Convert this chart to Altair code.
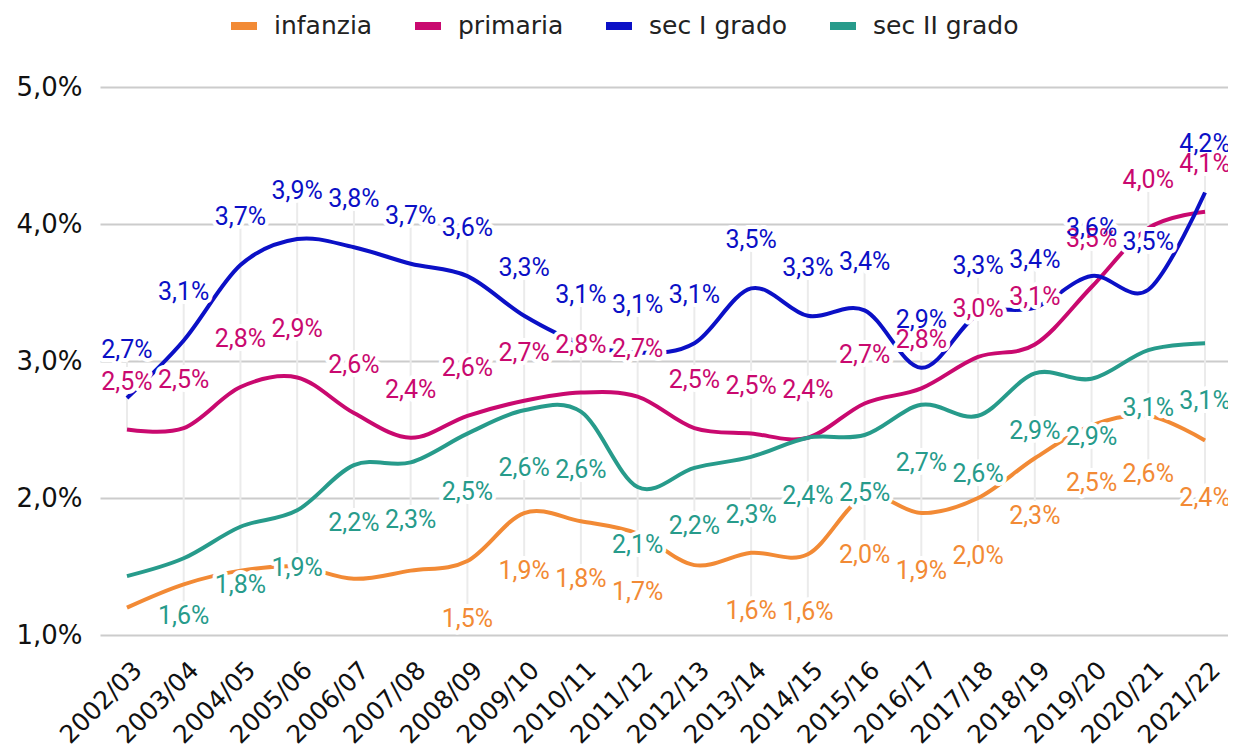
import altair as alt
import pandas as pd

years = ["2002/03", "2003/04", "2004/05", "2005/06", "2006/07", "2007/08", "2008/09",
         "2009/10", "2010/11", "2011/12", "2012/13", "2013/14", "2014/15", "2015/16",
         "2016/17", "2017/18", "2018/19", "2019/20", "2020/21", "2021/22"]

series = ["infanzia", "primaria", "sec I grado", "sec II grado"]
colors = ["#f28a35", "#c9096f", "#0b10c6", "#279b8b"]

infanzia = [1.20, 1.37, 1.47, 1.50, 1.41, 1.47, 1.54, 1.89, 1.83, 1.74,
            1.51, 1.60, 1.59, 2.01, 1.89, 2.00, 2.29, 2.53, 2.60, 2.42]
primaria = [2.50, 2.51, 2.81, 2.88, 2.62, 2.44, 2.60, 2.71, 2.77, 2.74,
            2.51, 2.47, 2.44, 2.69, 2.80, 3.03, 3.12, 3.54, 3.97, 4.09]
sec1 = [2.73, 3.15, 3.70, 3.89, 3.83, 3.71, 3.62, 3.33, 3.13, 3.06,
        3.13, 3.53, 3.33, 3.37, 2.95, 3.34, 3.39, 3.62, 3.52, 4.23]
sec2 = [1.43, 1.56, 1.79, 1.91, 2.24, 2.26, 2.47, 2.64, 2.63, 2.08,
        2.22, 2.30, 2.44, 2.46, 2.68, 2.60, 2.91, 2.87, 3.08, 3.13]

lab_infanzia = ["", "", "", "", "", "", "1,5%", "1,9%", "1,8%", "1,7%",
                "", "1,6%", "1,6%", "2,0%", "1,9%", "2,0%", "2,3%", "2,5%", "2,6%", "2,4%"]
lab_primaria = ["2,5%", "2,5%", "2,8%", "2,9%", "2,6%", "2,4%", "2,6%", "2,7%", "2,8%", "2,7%",
                "2,5%", "2,5%", "2,4%", "2,7%", "2,8%", "3,0%", "3,1%", "3,5%", "4,0%", "4,1%"]
lab_sec1 = ["2,7%", "3,1%", "3,7%", "3,9%", "3,8%", "3,7%", "3,6%", "3,3%", "3,1%", "3,1%",
            "3,1%", "3,5%", "3,3%", "3,4%", "2,9%", "3,3%", "3,4%", "3,6%", "3,5%", "4,2%"]
lab_sec2 = ["", "1,6%", "1,8%", "1,9%", "2,2%", "2,3%", "2,5%", "2,6%", "2,6%", "2,1%",
            "2,2%", "2,3%", "2,4%", "2,5%", "2,7%", "2,6%", "2,9%", "2,9%", "3,1%", "3,1%"]

above_series = ["primaria", "sec I grado"]

rows = []
for name, vals, labs in zip(series, [infanzia, primaria, sec1, sec2],
                            [lab_infanzia, lab_primaria, lab_sec1, lab_sec2]):
    for y, v, l in zip(years, vals, labs):
        rows.append(dict(year=y, serie=name, value=v, label=l,
                         pos="above" if name in above_series else "below"))
df = pd.DataFrame(rows)

# vertical connector rules: from top label to bottom label of each column
rrows = []
for y in years:
    sub = df[(df.year == y) & (df.label != "")]
    ab = sub[sub.pos == "above"]
    be = sub[sub.pos == "below"]
    top = ab.value.max()
    if len(be):
        rrows.append(dict(year=y, top=top, bottom=be.value.min(), hb="yes"))
    else:
        rrows.append(dict(year=y, top=top, bottom=sub.value.min(), hb="no"))
rdf = pd.DataFrame(rrows)

xscale = alt.Scale(type="point", padding=0.44, align=0.54)
yscale = alt.Scale(domain=[1, 5], nice=False, zero=False)
cscale = alt.Scale(domain=series, range=colors)

x_enc = alt.X("year:O", sort=years, scale=xscale,
              axis=alt.Axis(title=None, labelAngle=-45, labelAlign="right", labelBaseline="top",
                            labelFont="DejaVu Sans", labelFontSize=25, labelColor="#111111",
                            ticks=False, domain=False, grid=False, labelOffset=2,
                            labelPadding=22, labelOverlap=False, labelBound=False))
y_enc = alt.Y("value:Q", scale=yscale,
              axis=alt.Axis(title=None, values=[1, 2, 3, 4, 5],
                            labelExpr="replace(format(datum.value, '.1f'), '.', ',') + '%'",
                            labelFont="DejaVu Sans", labelFontSize=26, labelColor="#111111",
                            domain=False, ticks=False, gridColor="#cccccc", gridWidth=2,
                            labelPadding=18))

base = alt.Chart(df)

rules_b = alt.Chart(rdf).transform_filter(alt.datum.hb == "yes").mark_rule(
    color="#ebebeb", strokeWidth=2, yOffset=-48, y2Offset=58
).encode(x=alt.X("year:O", sort=years, scale=xscale), y=alt.Y("top:Q", scale=yscale), y2="bottom:Q")
rules_n = alt.Chart(rdf).transform_filter(alt.datum.hb == "no").mark_rule(
    color="#ebebeb", strokeWidth=2, yOffset=-48
).encode(x=alt.X("year:O", sort=years, scale=xscale), y=alt.Y("top:Q", scale=yscale), y2="bottom:Q")

lines = base.mark_line(strokeWidth=4, interpolate="cardinal").encode(
    x=x_enc, y=y_enc,
    color=alt.Color("serie:N", scale=cscale,
                    legend=alt.Legend(orient="none", legendX=127, legendY=-78,
                                      direction="horizontal", title=None,
                                      symbolType="stroke", symbolStrokeWidth=8, symbolSize=676,
                                      labelFont="DejaVu Sans", labelFontSize=25,
                                      labelColor="#222222", columnPadding=26, labelOffset=13)),
    detail="serie:N",
)

txt_common = dict(font="Roboto", fontSize=25, baseline="middle", align="center")


def halo(pos, dy):
    return base.transform_filter((alt.datum.pos == pos) & (alt.datum.label != "")).mark_text(
        dy=dy, fill="white", stroke="white", strokeWidth=8, strokeJoin="round", **txt_common
    ).encode(x=alt.X("year:O", sort=years, scale=xscale), y=alt.Y("value:Q", scale=yscale),
             text="label:N")


def labels(pos, dy):
    return base.transform_filter((alt.datum.pos == pos) & (alt.datum.label != "")).mark_text(
        dy=dy, **txt_common
    ).encode(x=alt.X("year:O", sort=years, scale=xscale), y=alt.Y("value:Q", scale=yscale),
             text="label:N",
             color=alt.Color("serie:N", scale=cscale, legend=None))


chart = alt.layer(
    rules_b, rules_n, lines,
    halo("above", -48), halo("below", 58),
    labels("above", -48), labels("below", 58),
).properties(
    width=1128, height=548,
    padding={"left": 92, "top": 79, "right": 0, "bottom": 110},
    autosize=alt.AutoSizeParams(type="none"),
).configure_view(stroke=None)

chart.save("out.html", embed_options={"renderer": "svg", "actions": False})
